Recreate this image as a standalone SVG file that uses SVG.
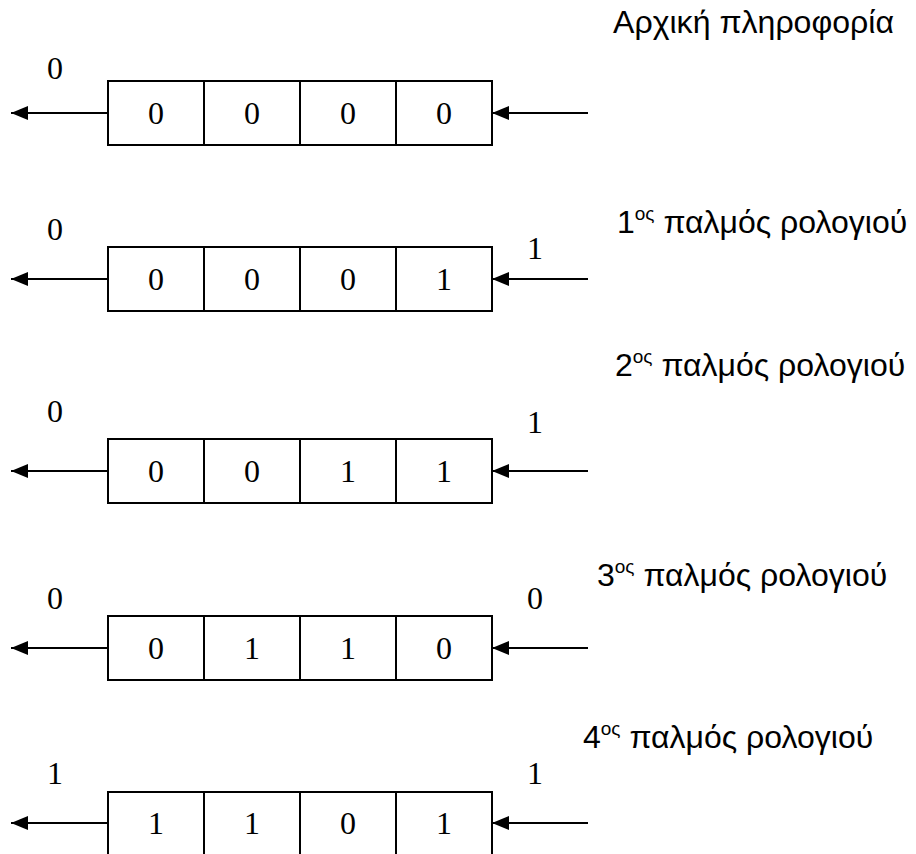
<svg xmlns="http://www.w3.org/2000/svg" width="916" height="854" viewBox="0 0 916 854">
<defs>
<marker id="ah" markerWidth="17" markerHeight="14" refX="17" refY="7" orient="auto" markerUnits="userSpaceOnUse">
<path d="M0,0 L17,7 L0,14 Z" fill="#000"/>
</marker>
<style>
.box{fill:#fff;stroke:#000;stroke-width:2}
.div{stroke:#000;stroke-width:2}
.arr{stroke:#000;stroke-width:2;fill:none;marker-end:url(#ah)}
.d{font-family:"Liberation Serif","Times New Roman",serif;font-size:32px;text-anchor:middle;fill:#000}
.t{font-family:"Liberation Sans",Arial,sans-serif;font-size:32px;fill:#000}
.sup{font-size:19px}
</style>
</defs>
<rect width="916" height="854" fill="#fff"/>

<g id="title0"><text class="t" x="613" y="33" textLength="281" lengthAdjust="spacingAndGlyphs">Αρχική πληροφορία</text></g>
<g id="title1"><text class="t" x="617" y="233">1<tspan class="sup" dy="-13">ος</tspan><tspan dy="13"> παλμός ρολογιού</tspan></text></g>
<g id="title2"><text class="t" x="615" y="376">2<tspan class="sup" dy="-13">ος</tspan><tspan dy="13"> παλμός ρολογιού</tspan></text></g>
<g id="title3"><text class="t" x="597" y="586">3<tspan class="sup" dy="-13">ος</tspan><tspan dy="13"> παλμός ρολογιού</tspan></text></g>
<g id="title4"><text class="t" x="583" y="748">4<tspan class="sup" dy="-13">ος</tspan><tspan dy="13"> παλμός ρολογιού</tspan></text></g>

<g id="connectors">
<line class="arr" x1="108" y1="113" x2="11" y2="113"/>
<line class="arr" x1="588" y1="113" x2="492" y2="113"/>
<line class="arr" x1="108" y1="279" x2="11" y2="279"/>
<line class="arr" x1="588" y1="279" x2="492" y2="279"/>
<line class="arr" x1="108" y1="471" x2="11" y2="471"/>
<line class="arr" x1="588" y1="471" x2="492" y2="471"/>
<line class="arr" x1="108" y1="648" x2="11" y2="648"/>
<line class="arr" x1="588" y1="648" x2="492" y2="648"/>
<line class="arr" x1="108" y1="823" x2="11" y2="823"/>
<line class="arr" x1="588" y1="823" x2="492" y2="823"/>
</g>

<g id="reg0">
<rect class="box" x="108" y="81" width="384" height="64"/>
<line class="div" x1="204" y1="81" x2="204" y2="145"/>
<line class="div" x1="300" y1="81" x2="300" y2="145"/>
<line class="div" x1="396" y1="81" x2="396" y2="145"/>
<text class="d" x="156" y="124">0</text><text class="d" x="252" y="124">0</text><text class="d" x="348" y="124">0</text><text class="d" x="444" y="124">0</text>
<text class="d" x="55" y="79">0</text>
</g>

<g id="reg1">
<rect class="box" x="108" y="247" width="384" height="64"/>
<line class="div" x1="204" y1="247" x2="204" y2="311"/>
<line class="div" x1="300" y1="247" x2="300" y2="311"/>
<line class="div" x1="396" y1="247" x2="396" y2="311"/>
<text class="d" x="156" y="290">0</text><text class="d" x="252" y="290">0</text><text class="d" x="348" y="290">0</text><text class="d" x="444" y="290">1</text>
<text class="d" x="55" y="240">0</text>
<text class="d" x="535" y="259">1</text>
</g>

<g id="reg2">
<rect class="box" x="108" y="439" width="384" height="64"/>
<line class="div" x1="204" y1="439" x2="204" y2="503"/>
<line class="div" x1="300" y1="439" x2="300" y2="503"/>
<line class="div" x1="396" y1="439" x2="396" y2="503"/>
<text class="d" x="156" y="482">0</text><text class="d" x="252" y="482">0</text><text class="d" x="348" y="482">1</text><text class="d" x="444" y="482">1</text>
<text class="d" x="55" y="422">0</text>
<text class="d" x="535" y="433">1</text>
</g>

<g id="reg3">
<rect class="box" x="108" y="616" width="384" height="64"/>
<line class="div" x1="204" y1="616" x2="204" y2="680"/>
<line class="div" x1="300" y1="616" x2="300" y2="680"/>
<line class="div" x1="396" y1="616" x2="396" y2="680"/>
<text class="d" x="156" y="659">0</text><text class="d" x="252" y="659">1</text><text class="d" x="348" y="659">1</text><text class="d" x="444" y="659">0</text>
<text class="d" x="55" y="609">0</text>
<text class="d" x="535" y="609">0</text>
</g>

<g id="reg4">
<rect class="box" x="108" y="792" width="384" height="64"/>
<line class="div" x1="204" y1="792" x2="204" y2="856"/>
<line class="div" x1="300" y1="792" x2="300" y2="856"/>
<line class="div" x1="396" y1="792" x2="396" y2="856"/>
<text class="d" x="156" y="834">1</text><text class="d" x="252" y="834">1</text><text class="d" x="348" y="834">0</text><text class="d" x="444" y="834">1</text>
<text class="d" x="55" y="784">1</text>
<text class="d" x="535" y="784">1</text>
</g>
</svg>
